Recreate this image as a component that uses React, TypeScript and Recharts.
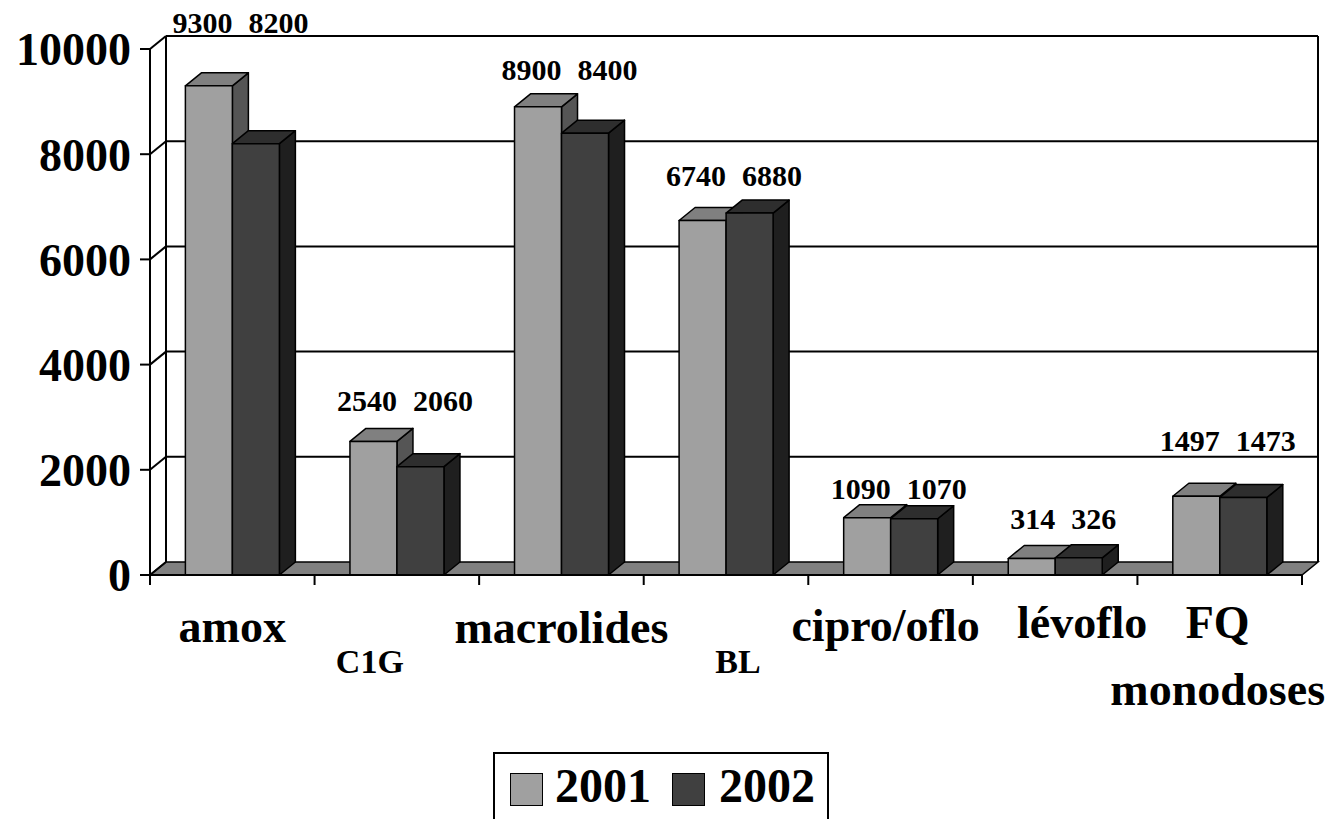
import React from 'react';
import { BarChart, Bar, XAxis, YAxis, CartesianGrid, LabelList, Legend } from 'recharts';

const CATEGORIES = ['amox', 'C1G', 'macrolides', 'BL', 'cipro/oflo', 'lévoflo', 'FQ monodoses'];
const Y2001 = [9300, 2540, 8900, 6740, 1090, 314, 1497];
const Y2002 = [8200, 2060, 8400, 6880, 1070, 326, 1473];
const Y_TICKS = [0, 2000, 4000, 6000, 8000, 10000];
const SERIES = ['2001', '2002'];

// label lift above the taller bar's top (style)
const LABEL_LIFT = [40, 17, 14, 14, 6, 16, 32];
// category tick label styles (style)
const CAT_STYLE = [
  { size: 46, dy: 67, dx: 0 },
  { size: 34, dy: 98, dx: -27 },
  { size: 46, dy: 68, dx: 0 },
  { size: 34, dy: 98, dx: 12 },
  { size: 46, dy: 66, dx: -5 },
  { size: 46, dy: 63, dx: 27 },
  { size: 46, dy: 63, dx: -2 },
];

const FONT = "'Liberation Serif', 'Times New Roman', serif";
const DX = 16;
const DY = 13;

const data = CATEGORIES.map((c, i) => ({ name: c, y2001: Y2001[i], y2002: Y2002[i] }));

const FACES: Record<string, { front: string; top: string; side: string }> = {
  y2001: { front: '#A0A0A0', top: '#808080', side: '#555555' },
  y2002: { front: '#404040', top: '#2E2E2E', side: '#1F1F1F' },
};

const make3D = (key: string) => (props: any) => {
  const { x, y, width, height } = props;
  const f = FACES[key];
  const b = y + height;
  return (
    <g stroke="#000" strokeWidth={1.5} strokeLinejoin="round">
      <polygon
        points={`${x + width},${y} ${x + width + DX},${y - DY} ${x + width + DX},${b - DY} ${x + width},${b}`}
        fill={f.side}
      />
      <polygon
        points={`${x},${y} ${x + DX},${y - DY} ${x + width + DX},${y - DY} ${x + width},${y}`}
        fill={f.top}
      />
      <rect x={x} y={y} width={width} height={height} fill={f.front} />
    </g>
  );
};

const gridLine = (props: any) => {
  const { x1, x2, y1, y, height, x, width, index } = props;
  const isFloor = Math.abs(y1 - (y + height)) < 1;
  const isTop = Math.abs(y1 - y) < 1;
  return (
    <g key={`g-${index}-${y1}`} stroke="#000" strokeWidth={2} fill="none">
      {isFloor ? (
        <polygon
          points={`${x1},${y1} ${x2},${y1} ${x2 + DX},${y1 - DY} ${x1 + DX},${y1 - DY}`}
          fill="#808080"
          strokeWidth={1.5}
        />
      ) : (
        <line x1={x1 + DX} y1={y1 - DY} x2={x2 + DX} y2={y1 - DY} />
      )}
      <line x1={x1} y1={y1} x2={x1 + DX} y2={y1 - DY} />
      {isTop && (
        <>
          <line x1={x + DX} y1={y - DY} x2={x + DX} y2={y + height - DY} />
          <line x1={x + width + DX} y1={y - DY} x2={x + width + DX} y2={y + height - DY} />
        </>
      )}
    </g>
  );
};

const CatTick = (props: any) => {
  const { x, y, payload, index } = props;
  const half = payload && payload.offset ? payload.offset : (1302 - 150) / 14;
  const st = CAT_STYLE[index] || CAT_STYLE[0];
  const lines = String(payload.value).split(' ');
  return (
    <g>
      <line x1={x - half} y1={y} x2={x - half} y2={y + 10} stroke="#000" strokeWidth={2} />
      {index === CATEGORIES.length - 1 && (
        <line x1={x + half} y1={y} x2={x + half} y2={y + 10} stroke="#000" strokeWidth={2} />
      )}
      {lines.map((t, i) => (
        <text
          key={i}
          x={x + st.dx}
          y={y + st.dy + i * 67}
          textAnchor="middle"
          fontFamily={FONT}
          fontWeight="bold"
          fontSize={st.size}
          fill="#000"
        >
          {t}
        </text>
      ))}
    </g>
  );
};

const PairLabel = (props: any) => {
  const { x, y, width, height, index } = props;
  const v1 = Y2001[index];
  const v2 = Y2002[index];
  const bottom = y + height;
  const top1 = bottom - height * (v1 / v2);
  const topMax = Math.min(y, top1);
  const cx = x + DX / 2;
  const base = topMax - DY - LABEL_LIFT[index];
  return (
    <g fontFamily={FONT} fontWeight="bold" fontSize={30} fill="#000">
      <text x={cx - 8} y={base} textAnchor="end">
        {v1}
      </text>
      <text x={cx + 8} y={base} textAnchor="start">
        {v2}
      </text>
    </g>
  );
};

const LegendBox = () => {
  const sw = (left: number, color: string) => (
    <div
      style={{
        position: 'absolute',
        left,
        top: 19,
        width: 33,
        height: 33,
        background: color,
        border: '1.5px solid #000',
        boxSizing: 'border-box',
      }}
    />
  );
  const tx = (left: number, t: string) => (
    <span
      style={{
        position: 'absolute',
        left,
        top: 8,
        fontFamily: FONT,
        fontWeight: 'bold',
        fontSize: 48,
        lineHeight: 1,
        color: '#000',
        whiteSpace: 'nowrap',
      }}
    >
      {t}
    </span>
  );
  return (
    <div
      style={{
        position: 'relative',
        width: 336,
        height: 90,
        border: '2px solid #000',
        boxSizing: 'border-box',
        background: '#fff',
      }}
    >
      {sw(15, FACES.y2001.front)}
      {tx(60, SERIES[0])}
      {sw(177, FACES.y2002.front)}
      {tx(224, SERIES[1])}
    </div>
  );
};

export default function App() {
  return (
    <div
      style={{
        position: 'absolute',
        left: 0,
        top: 0,
        width: 1337,
        height: 819,
        overflow: 'hidden',
        background: '#fff',
      }}
    >
      <BarChart
        width={1337}
        height={819}
        data={data}
        margin={{ top: 49, right: 35, bottom: 94, left: 0 }}
        barGap={0}
        barCategoryGap="21.5%"
      >
        <CartesianGrid horizontal={gridLine} vertical={false} />
        <XAxis
          dataKey="name"
          height={150}
          interval={0}
          tickLine={false}
          tickSize={0}
          tickMargin={0}
          axisLine={{ stroke: '#000', strokeWidth: 2 }}
          tick={<CatTick />}
        />
        <YAxis
          width={150}
          domain={[0, 10000]}
          ticks={Y_TICKS}
          interval={0}
          tickSize={10}
          tickMargin={9}
          axisLine={{ stroke: '#000', strokeWidth: 2 }}
          tickLine={{ stroke: '#000', strokeWidth: 2 }}
          tick={{ fontSize: 46, fontWeight: 'bold', fill: '#000', fontFamily: FONT }}
        />
        <Bar dataKey="y2001" name={SERIES[0]} fill={FACES.y2001.front} shape={make3D('y2001')} isAnimationActive={false} />
        <Bar dataKey="y2002" name={SERIES[1]} fill={FACES.y2002.front} shape={make3D('y2002')} isAnimationActive={false}>
          <LabelList dataKey="y2002" content={<PairLabel />} />
        </Bar>
        <Legend
          layout="horizontal"
          verticalAlign="middle"
          align="center"
          wrapperStyle={{ top: 752, left: 493, width: 336, height: 90 }}
          content={<LegendBox />}
        />
      </BarChart>
    </div>
  );
}
